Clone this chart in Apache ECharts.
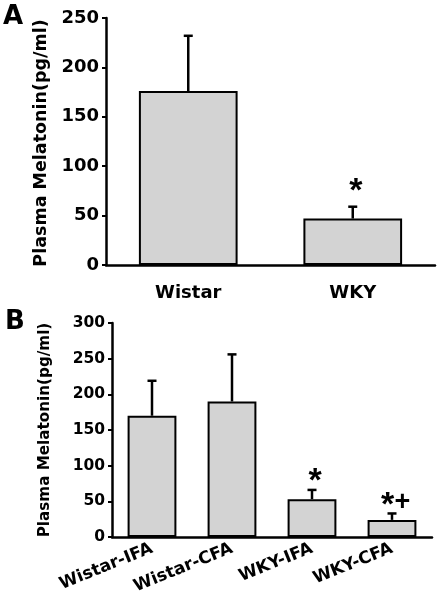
<!DOCTYPE html>
<html>
<head>
<meta charset="utf-8">
<script src="https://cdn.jsdelivr.net/npm/echarts@6/dist/echarts.min.js"></script>
<style>html,body{margin:0;padding:0;background:#fff}#c{width:440px;height:601px}</style>
</head>
<body>
<div id="c"></div>
<script>
// Panel A data
const catsA = ['Wistar', 'WKY'];
const meanA = [176, 47];
const upperA = [232, 59];
const marksA = ['', '*'];
const ticksA = { min: 0, max: 250, interval: 50 };

// Panel B data
const catsB = ['Wistar-IFA', 'Wistar-CFA', 'WKY-IFA', 'WKY-CFA'];
const meanB = [170, 190, 53, 24];
const upperB = [219, 256, 66, 33];
const marksB = ['', '', '*', '*+'];
const ticksB = { min: 0, max: 300, interval: 50 };

const yTitle = 'Plasma Melatonin(pg/ml)';
const FONT = 'DejaVu Sans';
const MARKFONT = 'Liberation Sans';

const chart = echarts.init(document.getElementById('c'), null, { renderer: 'canvas' });

function makeErr(marks, markGap) {
  return function (params, api) {
    const x = api.value(0);
    const p0 = api.coord([x, api.value(1)]);
    const p1 = api.coord([x, api.value(2)]);
    const style = { stroke: '#000', lineWidth: 2.5 };
    const children = [
      { type: 'line', shape: { x1: p0[0], y1: p0[1], x2: p1[0], y2: p1[1] }, style: style },
      { type: 'line', shape: { x1: p1[0] - 4.5, y1: p1[1], x2: p1[0] + 4.5, y2: p1[1] }, style: style }
    ];
    const m = marks[params.dataIndex] || '';
    const chars = m.split('');
    const n = chars.length;
    chars.forEach(function (ch, k) {
      const isStar = ch === '*';
      const fs = isStar ? 34 : 27;
      const cx = p1[0] + 3 + (k - (n - 1) / 2) * 15;
      const cy = p1[1] - markGap + (isStar ? 0.14 * fs : 2);
      children.push({
        type: 'text',
        style: {
          text: ch, x: cx, y: cy,
          textAlign: 'center', textVerticalAlign: 'middle',
          font: 'bold ' + fs + 'px "' + MARKFONT + '"', fill: '#000'
        }
      });
    });
    return { type: 'group', children: children };
  };
}

function yAxisCfg(idx, t, fs) {
  return {
    type: 'value', gridIndex: idx, min: t.min, max: t.max, interval: t.interval,
    splitLine: { show: false },
    axisLine: { show: true, lineStyle: { color: '#000', width: 2.5 } },
    axisTick: { show: true, length: 4, lineStyle: { color: '#000', width: 2 } },
    axisLabel: { color: '#000', fontSize: fs, fontWeight: 'bold', fontFamily: FONT, margin: 7 }
  };
}

const option = {
  animation: false,
  backgroundColor: '#fff',
  textStyle: { fontFamily: FONT },
  grid: [
    { left: 106, right: 5, top: 18, height: 247 },
    { left: 112, right: 8, top: 323, height: 214 }
  ],
  xAxis: [
    {
      type: 'category', gridIndex: 0, data: catsA,
      axisLine: { lineStyle: { color: '#000', width: 2.5 } },
      axisTick: { alignWithLabel: true, length: 5, lineStyle: { color: '#000', width: 2 } },
      axisLabel: { color: '#000', fontSize: 18, fontWeight: 'bold', fontFamily: FONT, margin: 19 }
    },
    {
      type: 'category', gridIndex: 1, data: catsB,
      axisLine: { lineStyle: { color: '#000', width: 2.5 } },
      axisTick: { alignWithLabel: true, length: 5, lineStyle: { color: '#000', width: 2 } },
      axisLabel: { color: '#000', fontSize: 17, fontWeight: 'bold', fontFamily: FONT, margin: 11, rotate: 22, interval: 0 }
    }
  ],
  yAxis: [yAxisCfg(0, ticksA, 18), yAxisCfg(1, ticksB, 15.5)],
  series: [
    {
      type: 'bar', xAxisIndex: 0, yAxisIndex: 0, data: meanA, barWidth: '60%',
      itemStyle: { color: '#d3d3d3', borderColor: '#000', borderWidth: 2 }
    },
    {
      type: 'custom', xAxisIndex: 0, yAxisIndex: 0,
      data: catsA.map((c, i) => [i, meanA[i], upperA[i]]),
      renderItem: makeErr(marksA, 20), z: 3
    },
    {
      type: 'bar', xAxisIndex: 1, yAxisIndex: 1, data: meanB, barWidth: '61%',
      itemStyle: { color: '#d3d3d3', borderColor: '#000', borderWidth: 2 }
    },
    {
      type: 'custom', xAxisIndex: 1, yAxisIndex: 1,
      data: catsB.map((c, i) => [i, meanB[i], upperB[i]]),
      renderItem: makeErr(marksB, 13), z: 3
    }
  ],
  graphic: [
    { type: 'text', left: 3, top: 4, style: { text: 'A', font: 'bold 26px "' + FONT + '"', fill: '#000' } },
    { type: 'text', left: 5, top: 309, style: { text: 'B', font: 'bold 26px "' + FONT + '"', fill: '#000' } },
    { type: 'text', x: 41, y: 143, rotation: Math.PI / 2,
      style: { text: yTitle, font: 'bold 17.5px "' + FONT + '"', fill: '#000', textAlign: 'center', textVerticalAlign: 'middle' } },
    { type: 'text', x: 45, y: 430, rotation: Math.PI / 2,
      style: { text: yTitle, font: 'bold 15.2px "' + FONT + '"', fill: '#000', textAlign: 'center', textVerticalAlign: 'middle' } }
  ]
};
chart.setOption(option);
</script>
</body>
</html>
